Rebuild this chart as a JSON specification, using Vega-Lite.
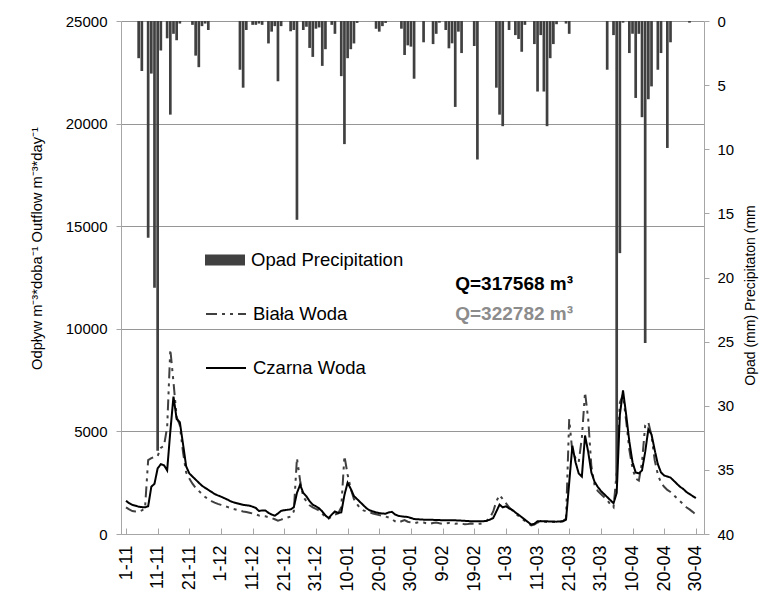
{
 "$schema": "https://vega.github.io/schema/vega-lite/v6.json",
 "width": 583,
 "height": 513,
 "autosize": {"type": "none"},
 "padding": {"left": 121, "top": 21, "right": 69, "bottom": 81},
 "background": "#ffffff",
 "config": {
  "font": "Liberation Sans",
  "view": {"stroke": null},
  "axis": {"labelColor": "#000000", "titleColor": "#000000", "titleFontWeight": "normal", "domainColor": "#a6a6a6", "tickColor": "#a6a6a6", "gridColor": "#969696", "labelFont": "Liberation Sans", "titleFont": "Liberation Sans"},
  "legend": {"labelFont": "Liberation Sans", "labelColor": "#000000"}
 },
 "datasets": {
  "daily": [
   {"date":"2010-11-01","Opad":0,"Biała Woda":1300,"Czarna Woda":1620},
   {"date":"2010-11-02","Opad":0,"Biała Woda":1200,"Czarna Woda":1500},
   {"date":"2010-11-03","Opad":0,"Biała Woda":1120,"Czarna Woda":1420},
   {"date":"2010-11-04","Opad":0,"Biała Woda":1100,"Czarna Woda":1380},
   {"date":"2010-11-05","Opad":2.9,"Biała Woda":1080,"Czarna Woda":1330},
   {"date":"2010-11-06","Opad":3.9,"Biała Woda":1150,"Czarna Woda":1310},
   {"date":"2010-11-07","Opad":0,"Biała Woda":1250,"Czarna Woda":1300},
   {"date":"2010-11-08","Opad":16.9,"Biała Woda":3600,"Czarna Woda":1350},
   {"date":"2010-11-09","Opad":4.1,"Biała Woda":3700,"Czarna Woda":2300},
   {"date":"2010-11-10","Opad":20.8,"Biała Woda":3750,"Czarna Woda":2450},
   {"date":"2010-11-11","Opad":33.5,"Biała Woda":3800,"Czarna Woda":3200},
   {"date":"2010-11-12","Opad":2.3,"Biała Woda":4200,"Czarna Woda":3400},
   {"date":"2010-11-13","Opad":0,"Biała Woda":4300,"Czarna Woda":3350},
   {"date":"2010-11-14","Opad":1.35,"Biała Woda":5200,"Czarna Woda":3100},
   {"date":"2010-11-15","Opad":7.3,"Biała Woda":9000,"Czarna Woda":5000},
   {"date":"2010-11-16","Opad":1.0,"Biała Woda":7400,"Czarna Woda":6700},
   {"date":"2010-11-17","Opad":1.5,"Biała Woda":5700,"Czarna Woda":5600},
   {"date":"2010-11-18","Opad":0.2,"Biała Woda":5300,"Czarna Woda":5450},
   {"date":"2010-11-19","Opad":0,"Biała Woda":4000,"Czarna Woda":4400},
   {"date":"2010-11-20","Opad":0,"Biała Woda":3000,"Czarna Woda":3300},
   {"date":"2010-11-21","Opad":0,"Biała Woda":2700,"Czarna Woda":2950},
   {"date":"2010-11-22","Opad":0.3,"Biała Woda":2450,"Czarna Woda":2800},
   {"date":"2010-11-23","Opad":2.7,"Biała Woda":2250,"Czarna Woda":2650},
   {"date":"2010-11-24","Opad":3.6,"Biała Woda":2100,"Czarna Woda":2500},
   {"date":"2010-11-25","Opad":0.4,"Biała Woda":1950,"Czarna Woda":2350},
   {"date":"2010-11-26","Opad":0.2,"Biała Woda":1800,"Czarna Woda":2250},
   {"date":"2010-11-27","Opad":0.7,"Biała Woda":1700,"Czarna Woda":2150},
   {"date":"2010-11-28","Opad":0,"Biała Woda":1600,"Czarna Woda":2050},
   {"date":"2010-11-29","Opad":0,"Biała Woda":1530,"Czarna Woda":1950},
   {"date":"2010-11-30","Opad":0,"Biała Woda":1470,"Czarna Woda":1880},
   {"date":"2010-12-01","Opad":0,"Biała Woda":1420,"Czarna Woda":1820},
   {"date":"2010-12-02","Opad":0,"Biała Woda":1370,"Czarna Woda":1750},
   {"date":"2010-12-03","Opad":0,"Biała Woda":1320,"Czarna Woda":1680},
   {"date":"2010-12-04","Opad":0,"Biała Woda":1270,"Czarna Woda":1600},
   {"date":"2010-12-05","Opad":0,"Biała Woda":1220,"Czarna Woda":1540},
   {"date":"2010-12-06","Opad":0,"Biała Woda":1180,"Czarna Woda":1500},
   {"date":"2010-12-07","Opad":3.8,"Biała Woda":1140,"Czarna Woda":1460},
   {"date":"2010-12-08","Opad":5.2,"Biała Woda":1100,"Czarna Woda":1420},
   {"date":"2010-12-09","Opad":0.7,"Biała Woda":1070,"Czarna Woda":1400},
   {"date":"2010-12-10","Opad":0,"Biała Woda":1040,"Czarna Woda":1380},
   {"date":"2010-12-11","Opad":0.3,"Biała Woda":1000,"Czarna Woda":1330},
   {"date":"2010-12-12","Opad":0.3,"Biała Woda":960,"Czarna Woda":1270},
   {"date":"2010-12-13","Opad":0.2,"Biała Woda":900,"Czarna Woda":1120},
   {"date":"2010-12-14","Opad":0.3,"Biała Woda":880,"Czarna Woda":1150},
   {"date":"2010-12-15","Opad":0,"Biała Woda":860,"Czarna Woda":1150},
   {"date":"2010-12-16","Opad":1.75,"Biała Woda":820,"Czarna Woda":1030},
   {"date":"2010-12-17","Opad":0.83,"Biała Woda":780,"Czarna Woda":950},
   {"date":"2010-12-18","Opad":0.4,"Biała Woda":720,"Czarna Woda":890},
   {"date":"2010-12-19","Opad":4.7,"Biała Woda":650,"Czarna Woda":1000},
   {"date":"2010-12-20","Opad":0.4,"Biała Woda":700,"Czarna Woda":1130},
   {"date":"2010-12-21","Opad":0,"Biała Woda":760,"Czarna Woda":1160},
   {"date":"2010-12-22","Opad":0,"Biała Woda":800,"Czarna Woda":1180},
   {"date":"2010-12-23","Opad":0.8,"Biała Woda":850,"Czarna Woda":1200},
   {"date":"2010-12-24","Opad":0.7,"Biała Woda":1100,"Czarna Woda":1300},
   {"date":"2010-12-25","Opad":15.5,"Biała Woda":3700,"Czarna Woda":2000},
   {"date":"2010-12-26","Opad":0,"Biała Woda":2600,"Czarna Woda":2400},
   {"date":"2010-12-27","Opad":0.7,"Biała Woda":1800,"Czarna Woda":2000},
   {"date":"2010-12-28","Opad":0.45,"Biała Woda":1600,"Czarna Woda":1830},
   {"date":"2010-12-29","Opad":2.1,"Biała Woda":1400,"Czarna Woda":1600},
   {"date":"2010-12-30","Opad":2.8,"Biała Woda":1300,"Czarna Woda":1430},
   {"date":"2010-12-31","Opad":0.6,"Biała Woda":1220,"Czarna Woda":1350},
   {"date":"2011-01-01","Opad":0.5,"Biała Woda":1150,"Czarna Woda":1250},
   {"date":"2011-01-02","Opad":3.5,"Biała Woda":1000,"Czarna Woda":1100},
   {"date":"2011-01-03","Opad":2.2,"Biała Woda":800,"Czarna Woda":900},
   {"date":"2011-01-04","Opad":0,"Biała Woda":750,"Czarna Woda":780},
   {"date":"2011-01-05","Opad":0.3,"Biała Woda":850,"Czarna Woda":950},
   {"date":"2011-01-06","Opad":1.0,"Biała Woda":950,"Czarna Woda":1100},
   {"date":"2011-01-07","Opad":0,"Biała Woda":1000,"Czarna Woda":1020},
   {"date":"2011-01-08","Opad":4.3,"Biała Woda":1300,"Czarna Woda":1050},
   {"date":"2011-01-09","Opad":9.6,"Biała Woda":3800,"Czarna Woda":1900},
   {"date":"2011-01-10","Opad":2.9,"Biała Woda":2900,"Czarna Woda":2500},
   {"date":"2011-01-11","Opad":2.2,"Biała Woda":2200,"Czarna Woda":2200},
   {"date":"2011-01-12","Opad":1.75,"Biała Woda":1700,"Czarna Woda":1850},
   {"date":"2011-01-13","Opad":0.15,"Biała Woda":1450,"Czarna Woda":1700},
   {"date":"2011-01-14","Opad":0,"Biała Woda":1250,"Czarna Woda":1550},
   {"date":"2011-01-15","Opad":0,"Biała Woda":1150,"Czarna Woda":1400},
   {"date":"2011-01-16","Opad":0,"Biała Woda":1100,"Czarna Woda":1250},
   {"date":"2011-01-17","Opad":0,"Biała Woda":1050,"Czarna Woda":1150},
   {"date":"2011-01-18","Opad":0,"Biała Woda":1000,"Czarna Woda":1100},
   {"date":"2011-01-19","Opad":0.6,"Biała Woda":960,"Czarna Woda":1050},
   {"date":"2011-01-20","Opad":0.83,"Biała Woda":920,"Czarna Woda":1020},
   {"date":"2011-01-21","Opad":0.4,"Biała Woda":880,"Czarna Woda":1000},
   {"date":"2011-01-22","Opad":0.15,"Biała Woda":850,"Czarna Woda":990},
   {"date":"2011-01-23","Opad":0,"Biała Woda":800,"Czarna Woda":1050},
   {"date":"2011-01-24","Opad":0,"Biała Woda":720,"Czarna Woda":1080},
   {"date":"2011-01-25","Opad":0,"Biała Woda":620,"Czarna Woda":950},
   {"date":"2011-01-26","Opad":0,"Biała Woda":560,"Czarna Woda":890},
   {"date":"2011-01-27","Opad":0.6,"Biała Woda":620,"Czarna Woda":860},
   {"date":"2011-01-28","Opad":2.65,"Biała Woda":680,"Czarna Woda":840},
   {"date":"2011-01-29","Opad":1.9,"Biała Woda":600,"Czarna Woda":830},
   {"date":"2011-01-30","Opad":2.0,"Biała Woda":560,"Czarna Woda":780},
   {"date":"2011-01-31","Opad":4.5,"Biała Woda":520,"Czarna Woda":730},
   {"date":"2011-02-01","Opad":0,"Biała Woda":560,"Czarna Woda":720},
   {"date":"2011-02-02","Opad":0,"Biała Woda":580,"Czarna Woda":710},
   {"date":"2011-02-03","Opad":1.66,"Biała Woda":560,"Czarna Woda":700},
   {"date":"2011-02-04","Opad":0,"Biała Woda":520,"Czarna Woda":700},
   {"date":"2011-02-05","Opad":0,"Biała Woda":500,"Czarna Woda":700},
   {"date":"2011-02-06","Opad":1.8,"Biała Woda":540,"Czarna Woda":690},
   {"date":"2011-02-07","Opad":1.0,"Biała Woda":560,"Czarna Woda":680},
   {"date":"2011-02-08","Opad":0.13,"Biała Woda":520,"Czarna Woda":680},
   {"date":"2011-02-09","Opad":0,"Biała Woda":500,"Czarna Woda":670},
   {"date":"2011-02-10","Opad":0.7,"Biała Woda":520,"Czarna Woda":670},
   {"date":"2011-02-11","Opad":2.13,"Biała Woda":540,"Czarna Woda":665},
   {"date":"2011-02-12","Opad":1.74,"Biała Woda":520,"Czarna Woda":665},
   {"date":"2011-02-13","Opad":6.7,"Biała Woda":500,"Czarna Woda":665},
   {"date":"2011-02-14","Opad":0.83,"Biała Woda":520,"Czarna Woda":660},
   {"date":"2011-02-15","Opad":2.5,"Biała Woda":500,"Czarna Woda":650},
   {"date":"2011-02-16","Opad":0,"Biała Woda":480,"Czarna Woda":640},
   {"date":"2011-02-17","Opad":0,"Biała Woda":490,"Czarna Woda":630},
   {"date":"2011-02-18","Opad":0,"Biała Woda":510,"Czarna Woda":625},
   {"date":"2011-02-19","Opad":1.95,"Biała Woda":500,"Czarna Woda":620},
   {"date":"2011-02-20","Opad":10.8,"Biała Woda":490,"Czarna Woda":620},
   {"date":"2011-02-21","Opad":0,"Biała Woda":500,"Czarna Woda":620},
   {"date":"2011-02-22","Opad":0,"Biała Woda":560,"Czarna Woda":620},
   {"date":"2011-02-23","Opad":0,"Biała Woda":650,"Czarna Woda":650},
   {"date":"2011-02-24","Opad":0,"Biała Woda":800,"Czarna Woda":700},
   {"date":"2011-02-25","Opad":0,"Biała Woda":1100,"Czarna Woda":780},
   {"date":"2011-02-26","Opad":5.2,"Biała Woda":1600,"Czarna Woda":1100},
   {"date":"2011-02-27","Opad":7.3,"Biała Woda":1900,"Czarna Woda":1430},
   {"date":"2011-02-28","Opad":8.2,"Biała Woda":1700,"Czarna Woda":1300},
   {"date":"2011-03-01","Opad":0,"Biała Woda":1500,"Czarna Woda":1350},
   {"date":"2011-03-02","Opad":0.7,"Biała Woda":1300,"Czarna Woda":1250},
   {"date":"2011-03-03","Opad":0,"Biała Woda":1150,"Czarna Woda":1180},
   {"date":"2011-03-04","Opad":1.1,"Biała Woda":1000,"Czarna Woda":1050},
   {"date":"2011-03-05","Opad":1.4,"Biała Woda":880,"Czarna Woda":940},
   {"date":"2011-03-06","Opad":2.4,"Biała Woda":760,"Czarna Woda":820},
   {"date":"2011-03-07","Opad":0.3,"Biała Woda":640,"Czarna Woda":700},
   {"date":"2011-03-08","Opad":0,"Biała Woda":520,"Czarna Woda":580},
   {"date":"2011-03-09","Opad":0,"Biała Woda":420,"Czarna Woda":460},
   {"date":"2011-03-10","Opad":1.8,"Biała Woda":460,"Czarna Woda":500},
   {"date":"2011-03-11","Opad":5.5,"Biała Woda":560,"Czarna Woda":620},
   {"date":"2011-03-12","Opad":1.1,"Biała Woda":600,"Czarna Woda":630},
   {"date":"2011-03-13","Opad":5.5,"Biała Woda":600,"Czarna Woda":620},
   {"date":"2011-03-14","Opad":8.2,"Biała Woda":590,"Czarna Woda":620},
   {"date":"2011-03-15","Opad":2.9,"Biała Woda":580,"Czarna Woda":610},
   {"date":"2011-03-16","Opad":1.8,"Biała Woda":580,"Czarna Woda":610},
   {"date":"2011-03-17","Opad":0.25,"Biała Woda":580,"Czarna Woda":600},
   {"date":"2011-03-18","Opad":0,"Biała Woda":600,"Czarna Woda":610},
   {"date":"2011-03-19","Opad":0,"Biała Woda":620,"Czarna Woda":620},
   {"date":"2011-03-20","Opad":0.2,"Biała Woda":750,"Czarna Woda":700},
   {"date":"2011-03-21","Opad":1.0,"Biała Woda":5600,"Czarna Woda":2500},
   {"date":"2011-03-22","Opad":0,"Biała Woda":4000,"Czarna Woda":4300},
   {"date":"2011-03-23","Opad":0,"Biała Woda":3700,"Czarna Woda":3500},
   {"date":"2011-03-24","Opad":0,"Biała Woda":3500,"Czarna Woda":2950},
   {"date":"2011-03-25","Opad":0,"Biała Woda":4700,"Czarna Woda":2800},
   {"date":"2011-03-26","Opad":0,"Biała Woda":6900,"Czarna Woda":4800},
   {"date":"2011-03-27","Opad":0,"Biała Woda":5600,"Czarna Woda":4000},
   {"date":"2011-03-28","Opad":0,"Biała Woda":3300,"Czarna Woda":3000},
   {"date":"2011-03-29","Opad":0,"Biała Woda":2400,"Czarna Woda":2550},
   {"date":"2011-03-30","Opad":0,"Biała Woda":2100,"Czarna Woda":2300},
   {"date":"2011-03-31","Opad":0,"Biała Woda":1950,"Czarna Woda":2100},
   {"date":"2011-04-01","Opad":0,"Biała Woda":1800,"Czarna Woda":1950},
   {"date":"2011-04-02","Opad":3.8,"Biała Woda":1650,"Czarna Woda":1800},
   {"date":"2011-04-03","Opad":0,"Biała Woda":1450,"Czarna Woda":1650},
   {"date":"2011-04-04","Opad":1.1,"Biała Woda":1300,"Czarna Woda":1500},
   {"date":"2011-04-05","Opad":36,"Biała Woda":3000,"Czarna Woda":2000},
   {"date":"2011-04-06","Opad":18.1,"Biała Woda":6400,"Czarna Woda":5800},
   {"date":"2011-04-07","Opad":0.13,"Biała Woda":6800,"Czarna Woda":7000},
   {"date":"2011-04-08","Opad":0,"Biała Woda":5500,"Czarna Woda":5800},
   {"date":"2011-04-09","Opad":2.5,"Biała Woda":4100,"Czarna Woda":4500},
   {"date":"2011-04-10","Opad":1.0,"Biała Woda":3200,"Czarna Woda":3500},
   {"date":"2011-04-11","Opad":6.0,"Biała Woda":2700,"Czarna Woda":3000},
   {"date":"2011-04-12","Opad":1.0,"Biała Woda":2600,"Czarna Woda":2950},
   {"date":"2011-04-13","Opad":7.5,"Biała Woda":3500,"Czarna Woda":3100},
   {"date":"2011-04-14","Opad":25.1,"Biała Woda":5300,"Czarna Woda":4000},
   {"date":"2011-04-15","Opad":6.1,"Biała Woda":5450,"Czarna Woda":5100},
   {"date":"2011-04-16","Opad":5.1,"Biała Woda":4800,"Czarna Woda":4850},
   {"date":"2011-04-17","Opad":0,"Biała Woda":3600,"Czarna Woda":4100},
   {"date":"2011-04-18","Opad":3.8,"Biała Woda":2900,"Czarna Woda":3400},
   {"date":"2011-04-19","Opad":2.5,"Biała Woda":2500,"Czarna Woda":3000},
   {"date":"2011-04-20","Opad":0,"Biała Woda":2300,"Czarna Woda":2850},
   {"date":"2011-04-21","Opad":9.9,"Biała Woda":2150,"Czarna Woda":2800},
   {"date":"2011-04-22","Opad":1.66,"Biała Woda":2050,"Czarna Woda":2750},
   {"date":"2011-04-23","Opad":0,"Biała Woda":1900,"Czarna Woda":2600},
   {"date":"2011-04-24","Opad":0,"Biała Woda":1750,"Czarna Woda":2450},
   {"date":"2011-04-25","Opad":0,"Biała Woda":1600,"Czarna Woda":2300},
   {"date":"2011-04-26","Opad":0,"Biała Woda":1450,"Czarna Woda":2200},
   {"date":"2011-04-27","Opad":0,"Biała Woda":1300,"Czarna Woda":2050},
   {"date":"2011-04-28","Opad":0.13,"Biała Woda":1200,"Czarna Woda":1950},
   {"date":"2011-04-29","Opad":0,"Biała Woda":1080,"Czarna Woda":1850},
   {"date":"2011-04-30","Opad":0,"Biała Woda":950,"Czarna Woda":1750}
  ]
 },
 "data": {"name": "daily"},
 "encoding": {
  "x": {
   "field": "date", "type": "temporal",
   "scale": {"type": "utc", "domain": [{"year": 2010, "month": 11, "date": 1, "utc": true}, {"year": 2011, "month": 5, "date": 1, "utc": true}]},
   "axis": {
    "title": null, "format": "%-d-%m", "labelAngle": 270, "labelFontSize": 18, "labelPadding": 17, "tickSize": -6, "grid": false, "labelOverlap": false, "labelFlush": false,
    "values": [
     {"year": 2010, "month": 11, "date": 1, "utc": true}, {"year": 2010, "month": 11, "date": 11, "utc": true}, {"year": 2010, "month": 11, "date": 21, "utc": true},
     {"year": 2010, "month": 12, "date": 1, "utc": true}, {"year": 2010, "month": 12, "date": 11, "utc": true}, {"year": 2010, "month": 12, "date": 21, "utc": true},
     {"year": 2010, "month": 12, "date": 31, "utc": true}, {"year": 2011, "month": 1, "date": 10, "utc": true}, {"year": 2011, "month": 1, "date": 20, "utc": true},
     {"year": 2011, "month": 1, "date": 30, "utc": true}, {"year": 2011, "month": 2, "date": 9, "utc": true}, {"year": 2011, "month": 2, "date": 19, "utc": true},
     {"year": 2011, "month": 3, "date": 1, "utc": true}, {"year": 2011, "month": 3, "date": 11, "utc": true}, {"year": 2011, "month": 3, "date": 21, "utc": true},
     {"year": 2011, "month": 3, "date": 31, "utc": true}, {"year": 2011, "month": 4, "date": 10, "utc": true}, {"year": 2011, "month": 4, "date": 20, "utc": true},
     {"year": 2011, "month": 4, "date": 30, "utc": true}
    ]
   }
  }
 },
 "layer": [
  {
   "transform": [{"filter": "datum.Opad > 0"}],
   "mark": {"type": "bar", "size": 2.7},
   "encoding": {
    "y": {
     "field": "Opad", "type": "quantitative",
     "scale": {"domain": [0, 40], "reverse": true, "nice": false},
     "axis": {"orient": "right", "title": "Opad (mm) Precipitaton (mm", "values": [0, 5, 10, 15, 20, 25, 30, 35, 40], "grid": false, "tickSize": 5, "labelPadding": 8, "labelFontSize": 15, "titleFontSize": 14, "titlePadding": 10, "titleAngle": 270, "titleBaseline": "top", "titleAlign": "center", "titleY": 274}
    },
    "fill": {
     "datum": "Opad Precipitation", "type": "nominal",
     "scale": {"range": ["#404040"]},
     "legend": {"orient": "none", "legendX": 84, "legendY": 219, "title": null, "padding": 0, "symbolType": "M-1,-0.275H1V0.275H-1Z", "symbolSize": 1600, "symbolStrokeWidth": 0, "labelFontSize": 18.5, "labelOffset": 6, "labelLimit": 400}
    }
   }
  },
  {
   "layer": [
    {
     "transform": [{"aggregate": [{"op": "count", "as": "n"}]}],
     "mark": {"type": "rect", "color": "#ffffff"},
     "encoding": {
      "x": {"datum": {"year": 2010, "month": 11, "date": 23, "utc": true}, "type": "temporal"},
      "x2": {"datum": {"year": 2011, "month": 2, "date": 1, "utc": true}},
      "y": {"datum": 9800, "type": "quantitative"},
      "y2": {"datum": 10200}
     }
    },
    {
     "transform": [{"aggregate": [{"op": "count", "as": "n"}]}],
     "mark": {"type": "rect", "color": "#ffffff"},
     "encoding": {
      "x": {"datum": {"year": 2011, "month": 2, "date": 9, "utc": true}, "type": "temporal"},
      "x2": {"datum": {"year": 2011, "month": 4, "date": 1, "utc": true}},
      "y": {"datum": 9800, "type": "quantitative"},
      "y2": {"datum": 10200}
     }
    },
    {
     "transform": [{"fold": ["Biała Woda", "Czarna Woda"], "as": ["series", "flow"]}],
     "mark": {"type": "line", "strokeWidth": 2},
     "encoding": {
      "y": {
       "field": "flow", "type": "quantitative",
       "scale": {"domain": [0, 25000], "nice": false},
       "axis": {"orient": "left", "title": "Odpływ m⁻³*doba⁻¹ Outflow m⁻³*day⁻¹", "values": [0, 5000, 10000, 15000, 20000, 25000], "format": "d", "grid": true, "tickSize": 5, "labelPadding": 9, "labelFontSize": 15, "titleFontSize": 14.7, "titlePadding": 21, "titleY": 227}
      },
      "stroke": {
       "field": "series", "type": "nominal",
       "scale": {"domain": ["Biała Woda", "Czarna Woda"], "range": ["#404040", "#000000"]},
       "legend": {"orient": "none", "legendX": 84, "legendY": 272, "title": null, "padding": 0, "symbolType": "stroke", "symbolSize": 1600, "symbolStrokeWidth": 2, "labelFontSize": 18.5, "labelOffset": 6, "rowPadding": 23, "labelLimit": 400}
      },
      "strokeDash": {
       "field": "series", "type": "nominal",
       "scale": {"domain": ["Biała Woda", "Czarna Woda"], "range": [[11, 5, 3, 5, 3, 5], [1, 0]]},
       "legend": {"orient": "none", "legendX": 84, "legendY": 272, "title": null, "padding": 0, "symbolType": "stroke", "symbolSize": 1600, "symbolStrokeWidth": 2, "labelFontSize": 18.5, "labelOffset": 6, "rowPadding": 23, "labelLimit": 400}
      }
     }
    },
    {
     "transform": [{"filter": "datum.Opad == 6.7"}],
     "mark": {"type": "text", "align": "left", "baseline": "middle", "fontSize": 19, "fontWeight": "bold", "color": "#000000"},
     "encoding": {
      "x": {"datum": {"year": 2011, "month": 2, "date": 13, "utc": true}, "type": "temporal"},
      "y": {"datum": 12190, "type": "quantitative"},
      "text": {"value": "Q=317568 m³"}
     }
    },
    {
     "transform": [{"filter": "datum.Opad == 6.7"}],
     "mark": {"type": "text", "align": "left", "baseline": "middle", "fontSize": 19, "fontWeight": "bold", "color": "#8c8c8c"},
     "encoding": {
      "x": {"datum": {"year": 2011, "month": 2, "date": 13, "utc": true}, "type": "temporal"},
      "y": {"datum": 10700, "type": "quantitative"},
      "text": {"value": "Q=322782 m³"}
     }
    }
   ]
  }
 ],
 "resolve": {"scale": {"y": "independent"}}
}
